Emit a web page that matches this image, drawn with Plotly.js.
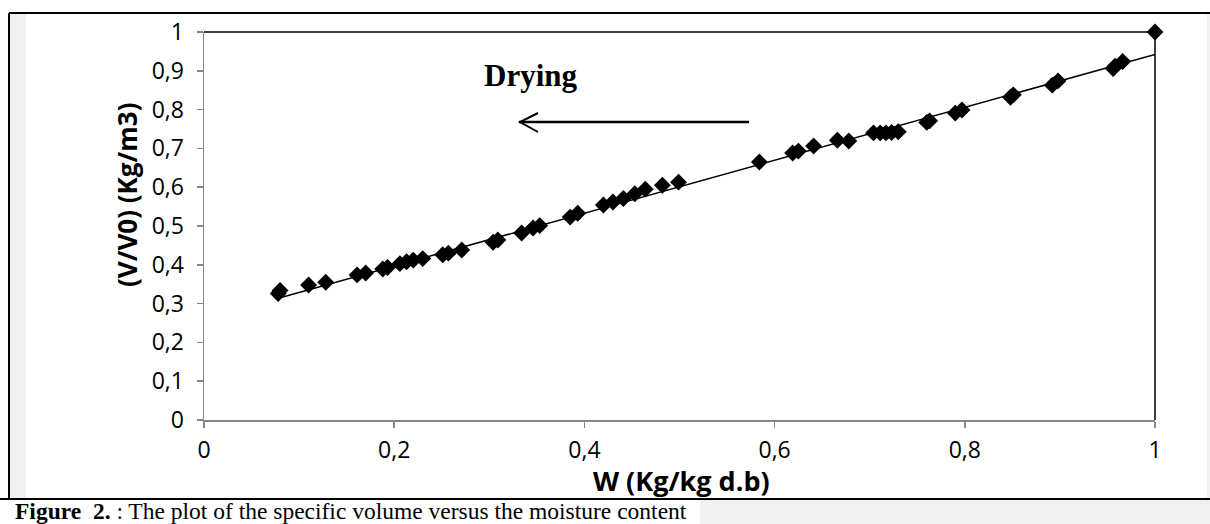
<!DOCTYPE html>
<html>
<head>
<meta charset="utf-8">
<script src="https://cdn.plot.ly/plotly-3.0.1.min.js"></script>
<style>
html,body{margin:0;padding:0;background:#fff;}
#chart{width:1210px;height:524px;}
</style>
</head>
<body>
<div id="chart"></div>
<script>
// Measured data: moisture content W (kg/kg d.b) vs relative volume V/V0
var moisture = [0.078, 0.080, 0.110, 0.128, 0.161, 0.170, 0.188, 0.193, 0.206, 0.213, 0.220, 0.230,
  0.251, 0.257, 0.271, 0.304, 0.309, 0.334, 0.346, 0.353, 0.385, 0.393, 0.420, 0.430, 0.441,
  0.453, 0.464, 0.482, 0.499, 0.584, 0.619, 0.625, 0.641, 0.666, 0.678, 0.704, 0.711, 0.717,
  0.723, 0.730, 0.760, 0.763, 0.790, 0.797, 0.848, 0.851, 0.892, 0.898, 0.956, 0.958, 0.966, 1.000];
var volumeRatio = [0.326, 0.334, 0.348, 0.355, 0.374, 0.379, 0.389, 0.393, 0.403, 0.408, 0.412, 0.416,
  0.426, 0.430, 0.438, 0.458, 0.464, 0.482, 0.495, 0.501, 0.523, 0.533, 0.554, 0.562, 0.571,
  0.583, 0.595, 0.605, 0.613, 0.665, 0.688, 0.693, 0.706, 0.721, 0.719, 0.740, 0.740, 0.740,
  0.741, 0.743, 0.767, 0.771, 0.791, 0.799, 0.832, 0.838, 0.863, 0.874, 0.906, 0.912, 0.924, 1.000];
// Linear trend line end points
var trendX = [0.08, 1.0];
var trendY = [0.315, 0.942];
// Tick labels
var yTicks = [0, 0.1, 0.2, 0.3, 0.4, 0.5, 0.6, 0.7, 0.8, 0.9, 1];
var yTickText = ['0', '0,1', '0,2', '0,3', '0,4', '0,5', '0,6', '0,7', '0,8', '0,9', '1'];
var xTicks = [0, 0.2, 0.4, 0.6, 0.8, 1];
var xTickText = ['0', '0,2', '0,4', '0,6', '0,8', '1'];

var W = 1210, H = 524;
var L = 204, R = 1155, T = 32, B = 420;
function px(x){ return (x - L) / (R - L); }
function py(y){ return (B - y) / (B - T); }

var grey = '#f0f0f0';
var shapes = [
  {type:'rect', xref:'paper', yref:'paper', x0:px(9), x1:px(26), y0:py(499), y1:py(13), fillcolor:grey, line:{width:0}, layer:'below'},
  {type:'rect', xref:'paper', yref:'paper', x0:px(1207), x1:px(1212), y0:py(526), y1:py(13), fillcolor:grey, line:{width:0}, layer:'below'},
  {type:'rect', xref:'paper', yref:'paper', x0:px(700), x1:px(1212), y0:py(526), y1:py(500), fillcolor:grey, line:{width:0}, layer:'below'},
  {type:'line', xref:'paper', yref:'paper', x0:px(9), x1:px(1212), y0:py(13), y1:py(13), line:{color:'#000', width:2}},
  {type:'line', xref:'paper', yref:'paper', x0:px(9), x1:px(9), y0:py(13), y1:py(499), line:{color:'#000', width:2}},
  {type:'line', xref:'paper', yref:'paper', x0:px(0), x1:px(1212), y0:py(499), y1:py(499), line:{color:'#000', width:2}},
  {type:'line', xref:'paper', yref:'paper', x0:0, x1:1, y0:1, y1:1, line:{color:'#000', width:1.5}},
  {type:'line', xref:'paper', yref:'paper', x0:1, x1:1, y0:0, y1:1, line:{color:'#000', width:1.5}},
  {type:'line', xref:'paper', yref:'paper', x0:px(519), x1:px(749), y0:py(122), y1:py(122), line:{color:'#000', width:2.5}},
  {type:'path', xref:'paper', yref:'paper',
   path:'M' + px(538) + ',' + py(113) + 'L' + px(520) + ',' + py(122) + 'L' + px(538) + ',' + py(132),
   line:{color:'#000', width:2}}
];

var data = [
  {x: trendX, y: trendY, type:'scatter', mode:'lines', line:{color:'#000', width:1.5}, hoverinfo:'skip', showlegend:false, cliponaxis:false},
  {x: moisture, y: volumeRatio, type:'scatter', mode:'markers', cliponaxis:false,
   marker:{symbol:'diamond', size:13, color:'#000'}, showlegend:false}
];

var sans = 'Open Sans, Liberation Sans, sans-serif';
var tickFont = {family: sans, size:23, color:'#000'};
var layout = {
  width: W, height: H,
  margin: {l: L, r: W - R, t: T, b: H - B, pad: 0},
  paper_bgcolor: '#fff', plot_bgcolor: '#fff',
  separators: ', ',
  showlegend: false,
  xaxis: {
    range: [0, 1], tickvals: xTicks, ticktext: xTickText, showgrid: false, zeroline: false,
    showline: true, linecolor: '#868686', linewidth: 1.5, ticks: 'outside', ticklen: 6, tickcolor: '#868686', tickwidth: 1.5,
    tickfont: tickFont, ticklabelstandoff: 3
  },
  yaxis: {
    range: [0, 1], tickvals: yTicks, ticktext: yTickText, showgrid: false, zeroline: false,
    showline: true, linecolor: '#868686', linewidth: 1.5, ticks: 'outside', ticklen: 6, tickcolor: '#868686', tickwidth: 1.5,
    tickfont: tickFont, ticklabelstandoff: 8
  },
  shapes: shapes,
  annotations: [
    {xref:'paper', yref:'paper', x: px(681), y: py(481), text:'<b>W (Kg/kg d.b)</b>', showarrow:false,
     font:{family: sans, size:27, color:'#000'}, xanchor:'center', yanchor:'middle'},
    {xref:'paper', yref:'paper', x: px(127), y: py(195), text:'<b>(V/V0) (Kg/m3)</b>', showarrow:false, textangle:-90,
     font:{family: sans, size:26, color:'#000'}, xanchor:'center', yanchor:'middle'},
    {xref:'paper', yref:'paper', x: px(531), y: py(75), text:'<b>Drying</b>', showarrow:false,
     font:{family:'Liberation Serif, Times New Roman, serif', size:31, color:'#000'}, xanchor:'center', yanchor:'middle'},
    {xref:'paper', yref:'paper', x: px(13), y: py(511), xanchor:'left', yanchor:'middle', showarrow:false,
     text:'<b>Figure  2.</b> : The plot of the specific volume versus the moisture content',
     font:{family:'Liberation Serif, Times New Roman, serif', size:23.5, color:'#000'}}
  ]
};

Plotly.newPlot('chart', data, layout, {displayModeBar:false, staticPlot:true});
</script>
</body>
</html>
